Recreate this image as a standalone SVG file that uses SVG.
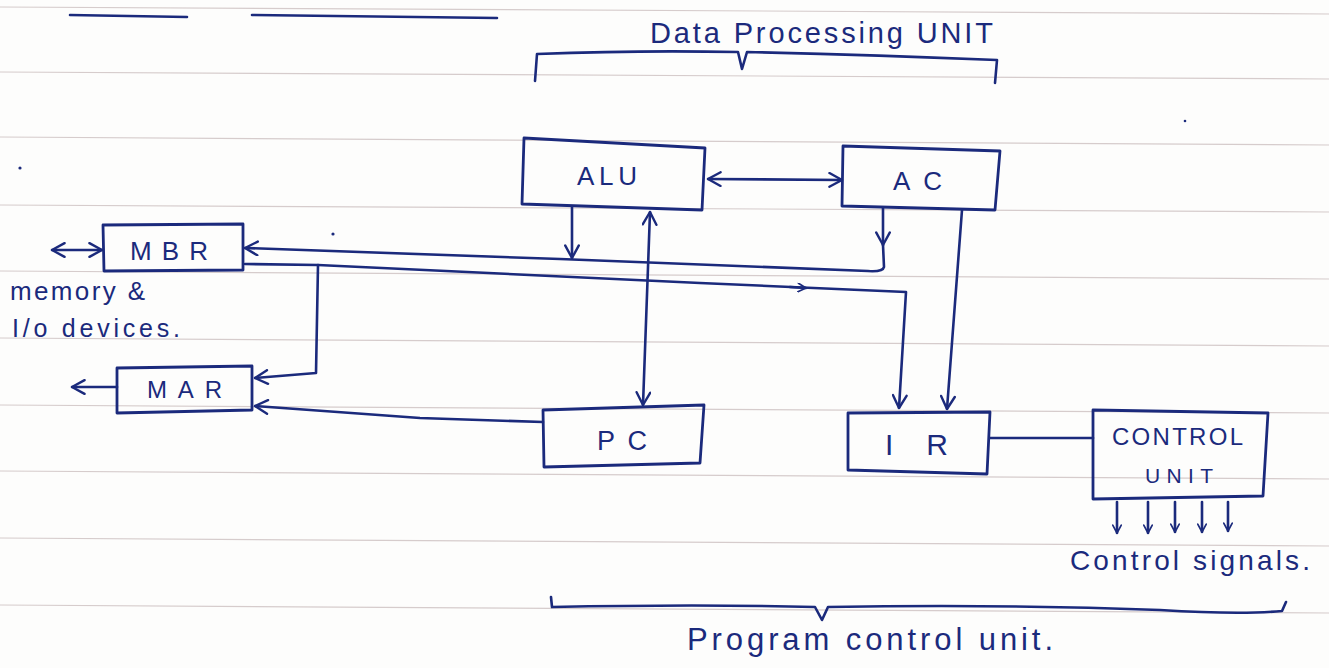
<svg xmlns="http://www.w3.org/2000/svg" width="1329" height="668" viewBox="0 0 1329 668">
  <style>
    .rule { stroke: #d6cccc; stroke-width: 1.2; fill: none; }
    .ink { stroke: #1b2a7c; stroke-width: 2.6; fill: none; stroke-linecap: round; stroke-linejoin: round; }
    .box { stroke: #1b2a7c; stroke-width: 2.8; fill: none; stroke-linejoin: round; }
    .lbl { fill: #1b2a7c; font-family: "Liberation Sans", Arial, sans-serif; }
  </style>
  <defs>
    <marker id="arr" viewBox="0 0 14 14" refX="13" refY="7" markerWidth="16" markerHeight="16" markerUnits="userSpaceOnUse" orient="auto-start-reverse">
      <path d="M2,1 L13,7 L2,13" fill="none" stroke="#1b2a7c" stroke-width="2.1" stroke-linecap="round" stroke-linejoin="round"/>
    </marker>
    <marker id="arrS" viewBox="0 0 14 14" refX="13" refY="7" markerWidth="10" markerHeight="10" markerUnits="userSpaceOnUse" orient="auto">
      <path d="M2,1 L13,7 L2,13" fill="none" stroke="#1b2a7c" stroke-width="2.4" stroke-linecap="round" stroke-linejoin="round"/>
    </marker>
  </defs>

  <!-- paper -->
  <rect width="1329" height="668" fill="#fdfdfc"/>
  <g id="ruling">
    <line class="rule" x1="0" y1="7" x2="1329" y2="14"/>
    <line class="rule" x1="0" y1="72" x2="1329" y2="79"/>
    <line class="rule" x1="0" y1="137" x2="1329" y2="145"/>
    <line class="rule" x1="0" y1="205" x2="1329" y2="212"/>
    <line class="rule" x1="0" y1="271" x2="1329" y2="279"/>
    <line class="rule" x1="0" y1="338" x2="1329" y2="346"/>
    <line class="rule" x1="0" y1="405" x2="1329" y2="413"/>
    <line class="rule" x1="0" y1="471" x2="1329" y2="479"/>
    <line class="rule" x1="0" y1="538" x2="1329" y2="546"/>
    <line class="rule" x1="0" y1="605" x2="1329" y2="613"/>
  </g>

  <!-- heading underlines -->
  <g id="heading">
    <path class="ink" stroke-width="3.2" d="M70,15 L187,17"/>
    <path class="ink" stroke-width="3.2" d="M252,15 L497,18"/>
  </g>

  <!-- stray ink dots -->
  <g id="dots" fill="#1b2a7c">
    <circle cx="20" cy="168" r="1.6"/>
    <circle cx="333" cy="234" r="1.6"/>
    <circle cx="1185" cy="121" r="1.3"/>
  </g>

  <!-- group braces -->
  <g id="data-processing-unit">
    <path class="ink" d="M535,81 L537,54 Q640,50 738,52 L742,69 L747,52 Q870,55 997,60 L995,83"/>
    <text class="lbl" x="650" y="43" font-size="29" textLength="343" lengthAdjust="spacing">Data Processing UNIT</text>
  </g>
  <g id="program-control-unit">
    <path class="ink" d="M551,597 L552,607 Q700,604 815,607 L822,620 L828,607 Q1000,604 1160,610 Q1240,615 1282,611 L1286,602"/>
    <text class="lbl" x="687" y="650" font-size="31" textLength="366" lengthAdjust="spacing">Program control unit.</text>
  </g>

  <!-- connectors -->
  <g id="connectors">
    <!-- ALU <-> AC -->
    <path class="ink" d="M708,179 L842,180" marker-start="url(#arr)" marker-end="url(#arr)"/>
    <!-- ALU down onto bus -->
    <path class="ink" d="M572,207 L572,258" marker-end="url(#arr)"/>
    <!-- AC down, then bus back to MBR -->
    <path class="ink" d="M883,208 L883,245" marker-end="url(#arr)"/>
    <path class="ink" d="M883,245 L884,267 Q883,272 868,271 L560,259 L245,248" marker-end="url(#arr)"/>
    <!-- MBR out to IR -->
    <path class="ink" d="M245,264 L318,265 L700,283 L906,292 L899,408" marker-end="url(#arr)"/>
    <path class="ink" d="M790,287 L806,288" marker-end="url(#arrS)"/>
    <!-- MBR branch to MAR -->
    <path class="ink" d="M318,265 L316,373 L255,378" marker-end="url(#arr)"/>
    <!-- PC to MAR -->
    <path class="ink" d="M543,422 L420,418 L255,406" marker-end="url(#arr)"/>
    <!-- ALU <-> PC -->
    <path class="ink" d="M650,212 L643,405" marker-start="url(#arr)" marker-end="url(#arr)"/>
    <!-- AC to IR -->
    <path class="ink" d="M962,210 L947,409" marker-end="url(#arr)"/>
    <!-- IR to control unit -->
    <path class="ink" d="M990,438 L1093,438"/>
    <!-- memory and I/O links -->
    <path class="ink" d="M52,250 L102,250" marker-start="url(#arr)" marker-end="url(#arr)"/>
    <path class="ink" d="M117,387 L72,387" marker-end="url(#arr)"/>
    <!-- control signal outputs -->
    <path class="ink" d="M1117,502 L1117,533" marker-end="url(#arrS)"/>
    <path class="ink" d="M1148,502 L1148,533" marker-end="url(#arrS)"/>
    <path class="ink" d="M1175,502 L1175,532" marker-end="url(#arrS)"/>
    <path class="ink" d="M1202,502 L1202,532" marker-end="url(#arrS)"/>
    <path class="ink" d="M1228,502 L1228,531" marker-end="url(#arrS)"/>
  </g>

  <!-- nodes -->
  <g id="ALU">
    <polygon class="box" points="524,138 705,148 702,210 522,204"/>
    <text class="lbl" x="577" y="185" font-size="26" textLength="60" lengthAdjust="spacing">ALU</text>
  </g>
  <g id="AC">
    <polygon class="box" points="843,146 1000,151 995,210 842,206"/>
    <text class="lbl" x="893" y="190" font-size="26" textLength="49" lengthAdjust="spacing">AC</text>
  </g>
  <g id="MBR">
    <polygon class="box" points="103,225 243,224 243,270 104,271"/>
    <text class="lbl" x="130" y="260" font-size="26" textLength="78" lengthAdjust="spacing">MBR</text>
  </g>
  <g id="MAR">
    <polygon class="box" points="117,368 252,366 252,410 117,413"/>
    <text class="lbl" x="147" y="398" font-size="24" textLength="75" lengthAdjust="spacing">MAR</text>
  </g>
  <g id="PC">
    <polygon class="box" points="543,410 704,405 700,463 544,467"/>
    <text class="lbl" x="597" y="450" font-size="27" textLength="50" lengthAdjust="spacing">PC</text>
  </g>
  <g id="IR">
    <polygon class="box" points="848,413 990,412 987,474 848,470"/>
    <text class="lbl" x="885" y="455" font-size="30" textLength="63" lengthAdjust="spacing">IR</text>
  </g>
  <g id="control-unit">
    <polygon class="box" points="1093,410 1268,413 1263,496 1093,499"/>
    <text class="lbl" x="1112" y="445" font-size="24" textLength="131" lengthAdjust="spacing">CONTROL</text>
    <text class="lbl" x="1145" y="483" font-size="21" textLength="68" lengthAdjust="spacing">UNIT</text>
  </g>

  <!-- annotations -->
  <g id="memory-io">
    <text class="lbl" x="10" y="300" font-size="26" textLength="135" lengthAdjust="spacing">memory &amp;</text>
    <text class="lbl" x="12" y="337" font-size="25" textLength="168" lengthAdjust="spacing">I/o devices.</text>
  </g>
  <g id="control-signals">
    <text class="lbl" x="1070" y="570" font-size="28" textLength="240" lengthAdjust="spacing">Control signals.</text>
  </g>
</svg>
